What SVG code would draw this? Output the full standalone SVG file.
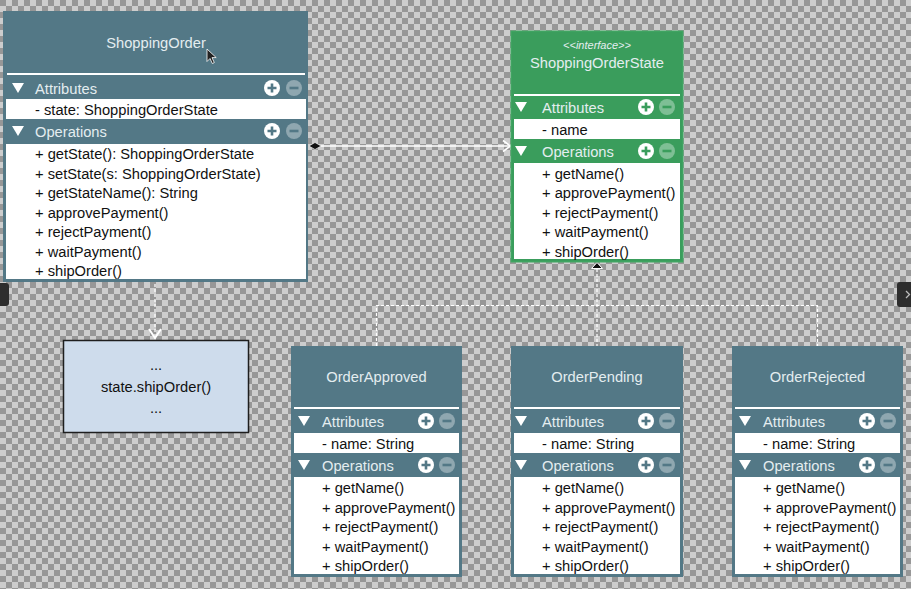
<svg xmlns="http://www.w3.org/2000/svg" width="911" height="589" viewBox="0 0 911 589">
<defs>
<pattern id="checker" x="0" y="0" width="12" height="12" patternUnits="userSpaceOnUse">
<rect width="12" height="12" fill="#cdcdcd"/>
<rect width="6" height="6" fill="#979797"/>
<rect x="6" y="6" width="6" height="6" fill="#979797"/>
</pattern>
<g id="plusT"><circle r="8" fill="#ffffff"/><path d="M-4.5 0H4.5M0 -4.5V4.5" stroke="#537886" stroke-width="2.6"/></g>
<g id="minusT"><circle r="8" fill="#ffffff" fill-opacity="0.35"/><path d="M-4.5 0H4.5" stroke="#537886" stroke-width="2.6"/></g>
<g id="plusG"><circle r="8" fill="#ffffff"/><path d="M-4.5 0H4.5M0 -4.5V4.5" stroke="#3a9d5c" stroke-width="2.6"/></g>
<g id="minusG"><circle r="8" fill="#ffffff" fill-opacity="0.35"/><path d="M-4.5 0H4.5" stroke="#3a9d5c" stroke-width="2.6"/></g>
<polygon id="tri" points="-6,-5 6,-5 0,5" fill="#ffffff"/>
</defs>
<style>
text{font-family:"Liberation Sans",Arial,sans-serif;font-size:14.7px}
.hdr{fill:#e4edf0}
.mid{text-anchor:middle}
.it{fill:#111111}
.ster{font-size:11px;font-style:italic}
.teal{fill:#537886}
.green{fill:#3a9d5c}
.row{fill:#ffffff}
.dash{fill:none;stroke:#ffffff;stroke-width:1.2;stroke-dasharray:3 2}
.solid{fill:none;stroke:#ffffff;stroke-width:1.3}
</style>
<rect width="911" height="589" fill="url(#checker)"/>

<g id="connectors">
<path class="solid" d="M321 146H510"/>
<polygon points="309,146 315,142.5 321,146 315,149.5" fill="#111111" stroke="#ffffff" stroke-width="0.6"/>
<path d="M503 140.5L510.5 146L503 151.5" fill="none" stroke="#ffffff" stroke-width="1.6"/>
<path class="dash" d="M155 284V337"/>
<path d="M149 329L155 338L161 329" fill="none" stroke="#ffffff" stroke-width="2"/>
<path class="dash" d="M597 269V346M376.5 346V305.5H817.5V346"/>
<polygon points="597,262.5 591.5,268.5 602.5,268.5" fill="#111111" stroke="#ffffff" stroke-width="1"/>
</g>

<g id="ShoppingOrder">
<rect class="teal" x="3" y="11" width="305" height="271"/>
<text class="hdr mid" x="156" y="48">ShoppingOrder</text>
<rect class="row" x="7" y="73" width="298" height="2"/>
<use href="#tri" x="18" y="88"/>
<text class="hdr" x="35" y="93.5">Attributes</text>
<use href="#plusT" x="272" y="88"/>
<use href="#minusT" x="294" y="88"/>
<rect class="row" x="6" y="99" width="300" height="20"/>
<text class="it" x="35" y="115">- state: ShoppingOrderState</text>
<use href="#tri" x="18" y="131"/>
<text class="hdr" x="35" y="136.5">Operations</text>
<use href="#plusT" x="272" y="131"/>
<use href="#minusT" x="294" y="131"/>
<rect class="row" x="6" y="144" width="300" height="135"/>
<text class="it" x="35" y="159">+ getState(): ShoppingOrderState</text>
<text class="it" x="35" y="178.5">+ setState(s: ShoppingOrderState)</text>
<text class="it" x="35" y="198">+ getStateName(): String</text>
<text class="it" x="35" y="217.5">+ approvePayment()</text>
<text class="it" x="35" y="237">+ rejectPayment()</text>
<text class="it" x="35" y="256.5">+ waitPayment()</text>
<text class="it" x="35" y="276">+ shipOrder()</text>
</g>

<g id="ShoppingOrderState">
<rect class="green" x="511" y="31" width="172" height="231" stroke="#44ab66" stroke-width="1"/>
<text class="hdr mid ster" x="597" y="49">&lt;&lt;interface&gt;&gt;</text>
<text class="hdr mid" x="597" y="68">ShoppingOrderState</text>
<rect class="row" x="514" y="94" width="166" height="2"/>
<use href="#tri" x="521" y="107"/>
<text class="hdr" x="542" y="112.5">Attributes</text>
<use href="#plusG" x="646" y="107"/>
<use href="#minusG" x="667" y="107"/>
<rect class="row" x="514" y="119" width="166" height="20"/>
<text class="it" x="542" y="134.5">- name</text>
<use href="#tri" x="521" y="151"/>
<text class="hdr" x="542" y="156.5">Operations</text>
<use href="#plusG" x="646" y="151"/>
<use href="#minusG" x="667" y="151"/>
<rect class="row" x="514" y="163" width="166" height="96"/>
<text class="it" x="542" y="178.5">+ getName()</text>
<text class="it" x="542" y="198">+ approvePayment()</text>
<text class="it" x="542" y="217.5">+ rejectPayment()</text>
<text class="it" x="542" y="237">+ waitPayment()</text>
<text class="it" x="542" y="257">+ shipOrder()</text>
</g>

<g id="note">
<rect x="63.5" y="340.5" width="185" height="92" fill="#cedcec" stroke="#1e1e1e" stroke-width="1.5"/>
<text class="it mid" x="156" y="370">...</text>
<text class="it mid" x="156" y="392">state.shipOrder()</text>
<text class="it mid" x="156" y="413">...</text>
</g>

<g id="OrderApproved">
<rect class="teal" x="291" y="346" width="171" height="231"/>
<text class="hdr mid" x="376.5" y="382">OrderApproved</text>
<rect class="row" x="294" y="407" width="165" height="2"/>
<use href="#tri" x="304" y="421"/>
<text class="hdr" x="322" y="426.5">Attributes</text>
<use href="#plusT" x="426" y="421"/>
<use href="#minusT" x="447" y="421"/>
<rect class="row" x="294" y="433" width="165" height="20"/>
<text class="it" x="322" y="448.5">- name: String</text>
<use href="#tri" x="304" y="465"/>
<text class="hdr" x="322" y="470.5">Operations</text>
<use href="#plusT" x="426" y="465"/>
<use href="#minusT" x="447" y="465"/>
<rect class="row" x="294" y="477" width="165" height="97"/>
<text class="it" x="322" y="493">+ getName()</text>
<text class="it" x="322" y="512.5">+ approvePayment()</text>
<text class="it" x="322" y="532">+ rejectPayment()</text>
<text class="it" x="322" y="551.5">+ waitPayment()</text>
<text class="it" x="322" y="571">+ shipOrder()</text>
</g>

<g id="OrderPending">
<rect class="teal" x="511" y="346" width="172" height="231"/>
<text class="hdr mid" x="597" y="382">OrderPending</text>
<rect class="row" x="514" y="407" width="166" height="2"/>
<use href="#tri" x="521" y="421"/>
<text class="hdr" x="542" y="426.5">Attributes</text>
<use href="#plusT" x="646" y="421"/>
<use href="#minusT" x="667" y="421"/>
<rect class="row" x="514" y="433" width="166" height="20"/>
<text class="it" x="542" y="448.5">- name: String</text>
<use href="#tri" x="521" y="465"/>
<text class="hdr" x="542" y="470.5">Operations</text>
<use href="#plusT" x="646" y="465"/>
<use href="#minusT" x="667" y="465"/>
<rect class="row" x="514" y="477" width="166" height="97"/>
<text class="it" x="542" y="493">+ getName()</text>
<text class="it" x="542" y="512.5">+ approvePayment()</text>
<text class="it" x="542" y="532">+ rejectPayment()</text>
<text class="it" x="542" y="551.5">+ waitPayment()</text>
<text class="it" x="542" y="571">+ shipOrder()</text>
</g>

<g id="OrderRejected">
<rect class="teal" x="732" y="346" width="171" height="231"/>
<text class="hdr mid" x="817.5" y="382">OrderRejected</text>
<rect class="row" x="735" y="407" width="165" height="2"/>
<use href="#tri" x="745" y="421"/>
<text class="hdr" x="763" y="426.5">Attributes</text>
<use href="#plusT" x="867" y="421"/>
<use href="#minusT" x="888" y="421"/>
<rect class="row" x="735" y="433" width="165" height="20"/>
<text class="it" x="763" y="448.5">- name: String</text>
<use href="#tri" x="745" y="465"/>
<text class="hdr" x="763" y="470.5">Operations</text>
<use href="#plusT" x="867" y="465"/>
<use href="#minusT" x="888" y="465"/>
<rect class="row" x="735" y="477" width="165" height="97"/>
<text class="it" x="763" y="493">+ getName()</text>
<text class="it" x="763" y="512.5">+ approvePayment()</text>
<text class="it" x="763" y="532">+ rejectPayment()</text>
<text class="it" x="763" y="551.5">+ waitPayment()</text>
<text class="it" x="763" y="571">+ shipOrder()</text>
</g>

<g id="ui">
<rect x="-5" y="283" width="14" height="23" rx="3" fill="#2d2d2d"/>
<rect x="897" y="282" width="20" height="25" rx="3" fill="#2d2d2d"/>
<path d="M906 291L909.5 294.5L906 298" fill="none" stroke="#bbbbbb" stroke-width="1.3"/>
<polygon points="207,49 207,61.5 210,58.5 212.3,63.5 214.3,62.6 212,57.6 216.2,57.6" fill="#222222" stroke="#ffffff" stroke-width="0.8"/>
</g>
</svg>
